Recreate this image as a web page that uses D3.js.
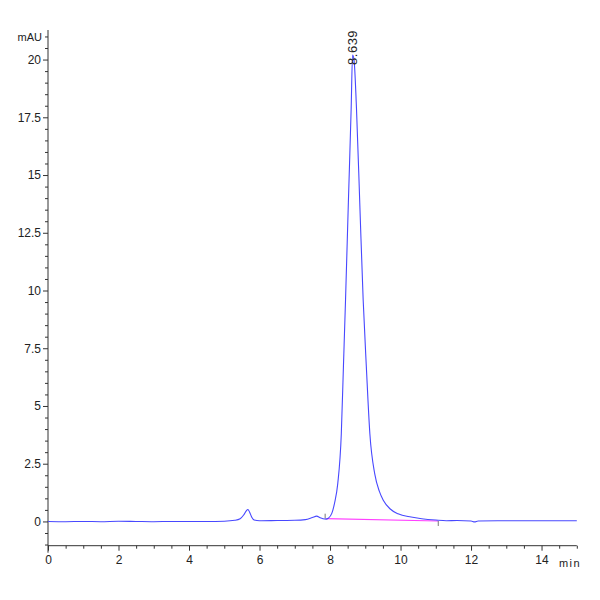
<!DOCTYPE html>
<meta charset="utf-8">
<title>Chromatogram</title>
<script src="https://d3js.org/d3.v7.min.js"></script>
<style>
  body { margin: 0; background: #fff; }
  text { font-family: "Liberation Sans Narrow", "Arial Narrow", "Liberation Sans", sans-serif; fill: #222; }
</style>
<body>
<div id="viz"></div>
<script>
// signal trace (min, mAU)
const times = [0, 0.5, 1.0, 1.5, 2.0, 2.5, 3.0, 3.5, 4.0, 4.5, 5.0, 5.3, 5.45, 5.55, 5.62, 5.67,
  5.72, 5.78, 5.85, 6.0, 6.5, 7.0, 7.3, 7.5, 7.62, 7.72, 7.8, 7.89, 7.95, 8.05, 8.13, 8.22,
  8.32, 8.38, 8.44, 8.52, 8.60, 8.639, 8.68, 8.75, 8.85, 8.94, 9.03, 9.13, 9.27, 9.40, 9.51,
  9.70, 9.93, 10.3, 10.6, 11.0, 11.3, 11.6, 12.0, 12.1, 12.2, 13.0, 14.0, 15.0];
const signal = [0.0, -0.01, 0.0, -0.01, 0.01, 0.0, -0.01, 0.0, 0.0, 0.0, 0.01, 0.05, 0.12, 0.28, 0.45, 0.52,
  0.40, 0.18, 0.06, 0.03, 0.04, 0.05, 0.08, 0.17, 0.23, 0.16, 0.12, 0.10, 0.14, 0.35, 0.80, 1.65,
  3.8, 6.7, 9.6, 13.8, 17.9, 20.2, 20.0, 17.9, 13.5, 9.6, 6.7, 3.8, 2.05, 1.30, 0.92,
  0.55, 0.33, 0.19, 0.12, 0.06, 0.03, 0.04, 0.02, -0.02, 0.02, 0.03, 0.03, 0.03];

// integration baseline of the main peak
const baseStart = [7.89, 0.12];
const baseEnd = [11.07, 0.02];
const peakLabel = "8.639";
const peakTime = 8.639;
const peakTop = 20.2;

const xTicks = [0, 2, 4, 6, 8, 10, 12, 14];
const yTicks = [0, 2.5, 5, 7.5, 10, 12.5, 15, 17.5, 20];

const width = 600, height = 600;

const x = d3.scaleLinear().domain([0, 15]).range([48, 576.8]);
const y = d3.scaleLinear().domain([-1.05, 21.28]).range([545.7, 30]);

const svg = d3.select("#viz").append("svg")
  .attr("width", width).attr("height", height)
  .attr("viewBox", [0, 0, width, height]);

// y axis
const yMinor = d3.range(-1, 21.01, 0.5).filter(v => yTicks.indexOf(v) < 0);
svg.append("g")
  .attr("transform", `translate(${x(0)},0)`)
  .call(d3.axisLeft(y).tickValues(yMinor).tickSize(3).tickFormat(""))
  .call(g => g.select(".domain").remove())
  .call(g => g.selectAll("line").attr("stroke", "#333"));
svg.append("g")
  .attr("transform", `translate(${x(0)},0)`)
  .call(d3.axisLeft(y).tickValues(yTicks).tickSize(5).tickPadding(2).tickFormat(d3.format("")))
  .call(g => g.select(".domain").attr("d", `M0,${y.range()[1]}V${y.range()[0] + 7}`).attr("stroke", "#333"))
  .call(g => g.selectAll("line").attr("stroke", "#333"))
  .call(g => g.selectAll("text").attr("font-size", 12).attr("font-family", null).attr("fill", "#222"));

// x axis
const xMinor = d3.range(0.5, 15.01, 0.5).filter(v => xTicks.indexOf(v) < 0);
svg.append("g")
  .attr("transform", `translate(0,${y(-1.05)})`)
  .call(d3.axisBottom(x).tickValues(xMinor).tickSize(3).tickFormat(""))
  .call(g => g.select(".domain").remove())
  .call(g => g.selectAll("line").attr("stroke", "#333"));
svg.append("g")
  .attr("transform", `translate(0,${y(-1.05)})`)
  .call(d3.axisBottom(x).tickValues(xTicks).tickSize(5).tickPadding(5))
  .call(g => g.select(".domain").attr("d", `M${x.range()[0]},0H${x.range()[1]}`).attr("stroke", "#333"))
  .call(g => g.selectAll("line").attr("stroke", "#333"))
  .call(g => g.selectAll("text").attr("font-size", 12).attr("font-family", null).attr("fill", "#222"));

// unit labels
svg.append("text").attr("x", 42).attr("y", 41).attr("text-anchor", "end")
  .attr("font-size", 11).text("mAU");
svg.append("text").attr("x", 570).attr("y", 567).attr("text-anchor", "middle")
  .attr("font-size", 11).attr("letter-spacing", 1.5).text("min");

// integration baseline and drop marks
svg.append("line")
  .attr("x1", x(baseStart[0])).attr("y1", y(baseStart[1]))
  .attr("x2", x(baseEnd[0])).attr("y2", y(baseEnd[1]))
  .attr("stroke", "#ff40ff").attr("stroke-width", 1.2);
svg.append("line")
  .attr("x1", x(baseStart[0]) - 1).attr("x2", x(baseStart[0]) - 1)
  .attr("y1", y(baseStart[1]) - 5).attr("y2", y(baseStart[1]))
  .attr("stroke", "#777");
svg.append("line")
  .attr("x1", x(baseEnd[0])).attr("x2", x(baseEnd[0]))
  .attr("y1", y(baseEnd[1])).attr("y2", y(baseEnd[1]) + 5)
  .attr("stroke", "#777");

// trace
const pts = times.map((t, i) => [t, signal[i]]);
svg.append("path")
  .datum(pts)
  .attr("fill", "none")
  .attr("stroke", "#4848ff")
  .attr("stroke-width", 1.1)
  .attr("d", d3.line().x(d => x(d[0])).y(d => y(d[1])).curve(d3.curveMonotoneX));

// peak label
svg.append("text")
  .attr("transform", `translate(${x(peakTime) + 1},${y(peakTop) + 10}) rotate(-90)`)
  .attr("dominant-baseline", "middle")
  .attr("font-size", 13)
  .attr("letter-spacing", 0.5)
  .text(peakLabel);
</script>
</body>
